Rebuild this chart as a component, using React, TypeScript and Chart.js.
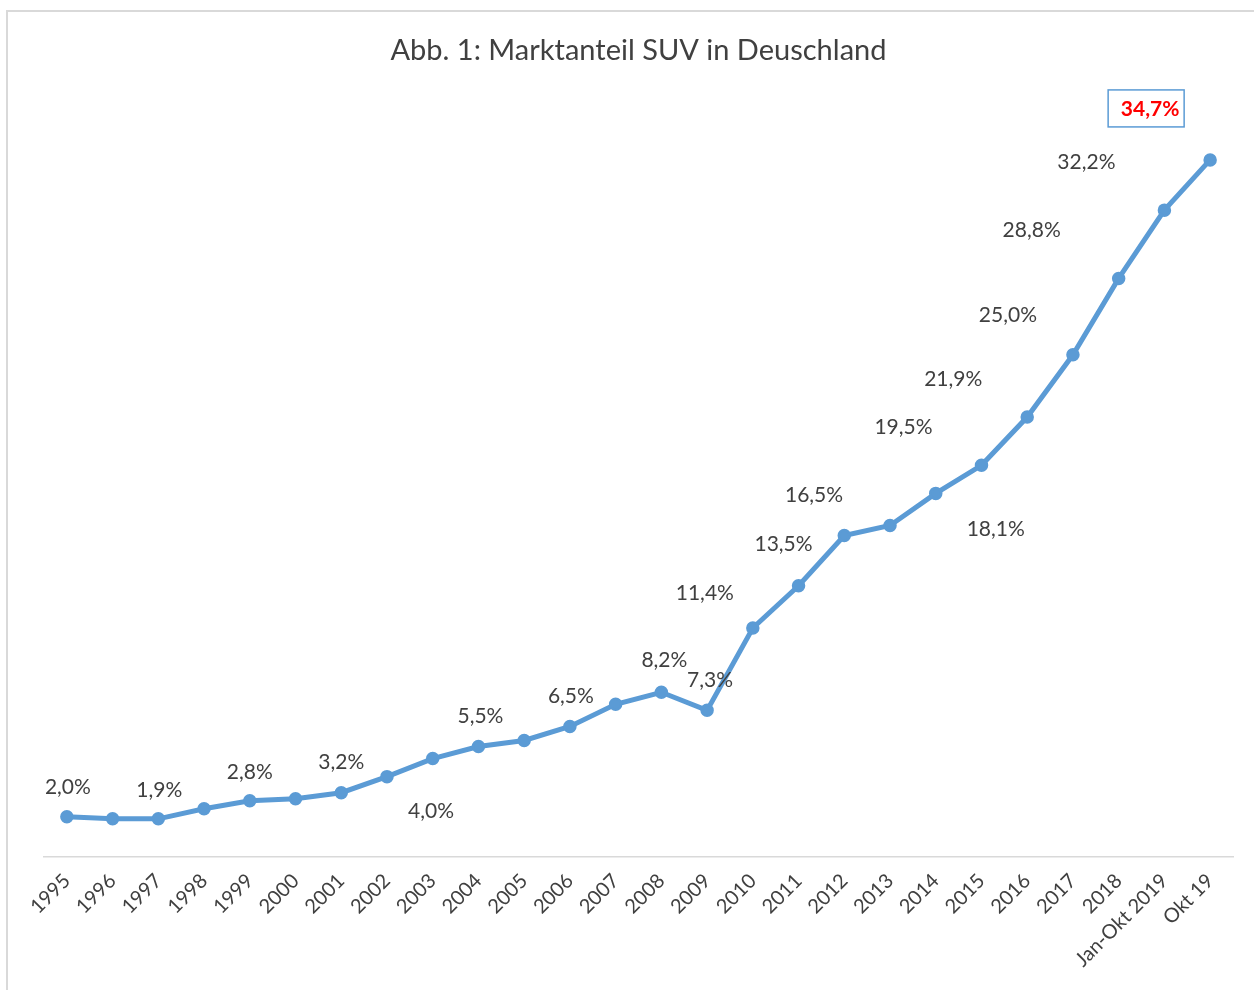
import React, { useEffect, useRef } from "react";
import { Chart, registerables } from "chart.js";

Chart.register(...registerables);

const categories = [
  "1995", "1996", "1997", "1998", "1999", "2000", "2001", "2002", "2003", "2004",
  "2005", "2006", "2007", "2008", "2009", "2010", "2011", "2012", "2013", "2014",
  "2015", "2016", "2017", "2018", "Jan-Okt 2019", "Okt 19",
];

const suvShare = [
  2.0, 1.9, 1.9, 2.4, 2.8, 2.9, 3.2, 4.0, 4.9, 5.5,
  5.8, 6.5, 7.6, 8.2, 7.3, 11.4, 13.5, 16.0, 16.5, 18.1,
  19.5, 21.9, 25.0, 28.8, 32.2, 34.7,
];

const titleText = "Abb. 1: Marktanteil SUV in Deuschland";

// which points carry a value label, and where the label sits relative to the point
const labelPlacement: { i: number; dx: number; dy: number; highlight?: boolean }[] = [
  { i: 0, dx: 1, dy: -30 },
  { i: 2, dx: 1, dy: -29 },
  { i: 4, dx: 0, dy: -29 },
  { i: 6, dx: 0, dy: -30 },
  { i: 7, dx: 44, dy: 35 },
  { i: 9, dx: 2, dy: -30 },
  { i: 11, dx: 1, dy: -30 },
  { i: 13, dx: 3, dy: -32 },
  { i: 14, dx: 3, dy: -30 },
  { i: 15, dx: -48, dy: -35 },
  { i: 16, dx: -15, dy: -42 },
  { i: 18, dx: -76, dy: -30 },
  { i: 19, dx: 60, dy: 36 },
  { i: 20, dx: -78, dy: -38 },
  { i: 21, dx: -74, dy: -38 },
  { i: 22, dx: -65, dy: -40 },
  { i: 23, dx: -87, dy: -48 },
  { i: 24, dx: -78, dy: -48 },
  { i: 25, dx: -60, dy: -51, highlight: true },
];

const FONT = "Lato, 'Open Sans', sans-serif";
const TEXT = "#404040";
const BLUE = "#5B9BD5";

const fmt = (v: number) => v.toFixed(1).replace(".", ",") + "%";

const framePlugin = {
  id: "frame",
  beforeDraw(chart: any) {
    const { ctx, width, height } = chart;
    ctx.save();
    ctx.fillStyle = "#ffffff";
    ctx.fillRect(0, 0, width, height);
    ctx.strokeStyle = "#d9d9d9";
    ctx.lineWidth = 2;
    ctx.beginPath();
    ctx.moveTo(7, height + 2);
    ctx.lineTo(7, 11);
    ctx.lineTo(width + 2, 11);
    ctx.stroke();
    ctx.restore();
  },
};

const labelPlugin = {
  id: "valueLabels",
  afterDatasetsDraw(chart: any) {
    const { ctx } = chart;
    const meta = chart.getDatasetMeta(0);
    const values = chart.data.datasets[0].data as number[];
    ctx.save();
    ctx.textAlign = "center";
    ctx.textBaseline = "middle";
    for (const p of labelPlacement) {
      const el = meta.data[p.i];
      if (!el) continue;
      const x = el.x + p.dx;
      const y = el.y + p.dy;
      const txt = fmt(values[p.i]);
      if (p.highlight) {
        ctx.font = `bold 21px ${FONT}`;
        const bw = 76;
        const bh = 37;
        const bx = x - 4 - bw / 2;
        const by = y - 0.5 - bh / 2;
        ctx.fillStyle = "#ffffff";
        ctx.fillRect(bx, by, bw, bh);
        ctx.strokeStyle = BLUE;
        ctx.lineWidth = 1.5;
        ctx.strokeRect(bx, by, bw, bh);
        ctx.fillStyle = "#FF0000";
        ctx.fillText(txt, x, y);
      } else {
        ctx.font = `21px ${FONT}`;
        ctx.fillStyle = TEXT;
        ctx.fillText(txt, x, y);
      }
    }
    ctx.restore();
  },
};

export default function App() {
  const canvasRef = useRef<HTMLCanvasElement | null>(null);

  useEffect(() => {
    document.body.style.margin = "0";
    const canvas = canvasRef.current;
    if (!canvas) return;
    const chart = new Chart(canvas, {
      type: "line",
      data: {
        labels: categories,
        datasets: [
          {
            data: suvShare,
            borderColor: BLUE,
            backgroundColor: BLUE,
            borderWidth: 5,
            pointRadius: 5.5,
            pointBorderWidth: 2.5,
            pointBorderColor: BLUE,
            pointBackgroundColor: BLUE,
            tension: 0,
            fill: false,
          },
        ],
      },
      options: {
        responsive: false,
        animation: false,
        devicePixelRatio: 1,
        layout: { padding: { left: 44, right: 21, top: 0, bottom: 0 } },
        plugins: {
          legend: { display: false },
          tooltip: { enabled: false },
          title: {
            display: true,
            text: titleText,
            color: TEXT,
            font: { family: FONT, size: 29, weight: "normal", lineHeight: 1.2 },
            padding: { top: 33, bottom: 66 },
          },
        },
        scales: {
          x: {
            offset: true,
            grid: { display: false },
            border: { display: true, color: "#d9d9d9", width: 1.5 },
            ticks: {
              color: TEXT,
              font: { family: FONT, size: 20 },
              minRotation: 45,
              maxRotation: 45,
              autoSkip: false,
              padding: 4,
            },
            afterFit: (scale: any) => {
              scale.height = 133;
            },
          },
          y: {
            display: false,
            min: 0,
            max: 36,
          },
        },
      },
      plugins: [framePlugin, labelPlugin],
    });
    return () => chart.destroy();
  }, []);

  return (
    <div style={{ width: 1254, height: 990 }}>
      <canvas ref={canvasRef} width={1254} height={990} style={{ display: "block" }} />
    </div>
  );
}
